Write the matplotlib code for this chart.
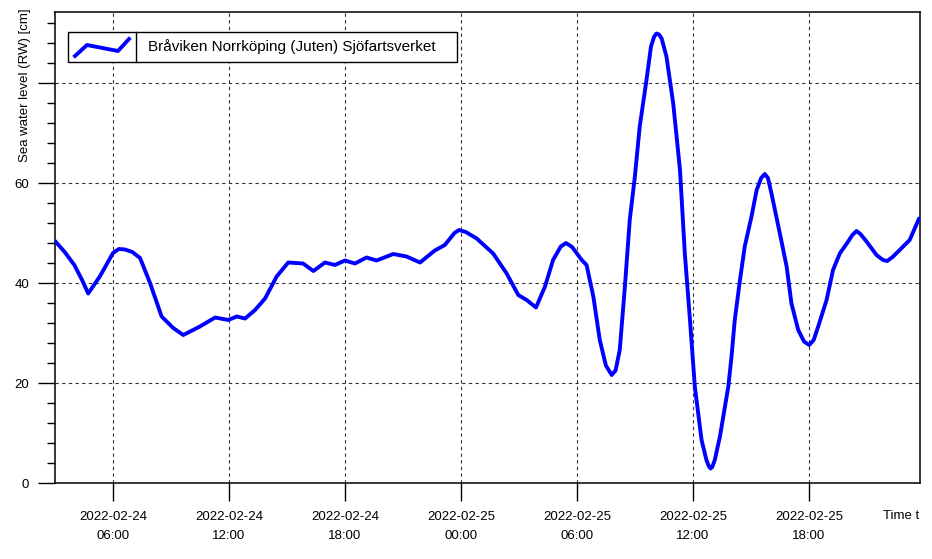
import matplotlib
matplotlib.use("Agg")
import matplotlib.pyplot as plt
import matplotlib.dates as mdates
import pandas as pd
from matplotlib.lines import Line2D
from matplotlib.patches import Rectangle

times = [
    "2022-02-24 03:00", "2022-02-24 03:30", "2022-02-24 04:00", "2022-02-24 04:24",
    "2022-02-24 04:43", "2022-02-24 05:20", "2022-02-24 06:00", "2022-02-24 06:18",
    "2022-02-24 06:37", "2022-02-24 07:00", "2022-02-24 07:24", "2022-02-24 07:55",
    "2022-02-24 08:31", "2022-02-24 09:07", "2022-02-24 09:38", "2022-02-24 10:30",
    "2022-02-24 11:17", "2022-02-24 11:58", "2022-02-24 12:24", "2022-02-24 12:50",
    "2022-02-24 13:21", "2022-02-24 13:52", "2022-02-24 14:28", "2022-02-24 15:04",
    "2022-02-24 15:50", "2022-02-24 16:22", "2022-02-24 16:58", "2022-02-24 17:29",
    "2022-02-24 18:00", "2022-02-24 18:31", "2022-02-24 19:07", "2022-02-24 19:38",
    "2022-02-24 20:30", "2022-02-24 21:11", "2022-02-24 21:53", "2022-02-24 22:39",
    "2022-02-24 23:10", "2022-02-24 23:40", "2022-02-24 23:54", "2022-02-25 00:15",
    "2022-02-25 00:49", "2022-02-25 01:40", "2022-02-25 02:22", "2022-02-25 02:58",
    "2022-02-25 03:24", "2022-02-25 03:53", "2022-02-25 04:21", "2022-02-25 04:46",
    "2022-02-25 05:10", "2022-02-25 05:26", "2022-02-25 05:45", "2022-02-25 06:15",
    "2022-02-25 06:30", "2022-02-25 06:51", "2022-02-25 07:11", "2022-02-25 07:30",
    "2022-02-25 07:48", "2022-02-25 08:00", "2022-02-25 08:13", "2022-02-25 08:29",
    "2022-02-25 08:44", "2022-02-25 09:00", "2022-02-25 09:15", "2022-02-25 09:36",
    "2022-02-25 09:50", "2022-02-25 10:00", "2022-02-25 10:07", "2022-02-25 10:15",
    "2022-02-25 10:23", "2022-02-25 10:38", "2022-02-25 10:59", "2022-02-25 11:20",
    "2022-02-25 11:35", "2022-02-25 11:51", "2022-02-25 12:06", "2022-02-25 12:27",
    "2022-02-25 12:42", "2022-02-25 12:50", "2022-02-25 12:55", "2022-02-25 13:00",
    "2022-02-25 13:08", "2022-02-25 13:24", "2022-02-25 13:50", "2022-02-25 14:00",
    "2022-02-25 14:10", "2022-02-25 14:26", "2022-02-25 14:41", "2022-02-25 15:02",
    "2022-02-25 15:18", "2022-02-25 15:32", "2022-02-25 15:43", "2022-02-25 15:53",
    "2022-02-25 16:04", "2022-02-25 16:30", "2022-02-25 16:51", "2022-02-25 17:06",
    "2022-02-25 17:27", "2022-02-25 17:45", "2022-02-25 18:01", "2022-02-25 18:15",
    "2022-02-25 18:29", "2022-02-25 18:55", "2022-02-25 19:15", "2022-02-25 19:36",
    "2022-02-25 20:02", "2022-02-25 20:15", "2022-02-25 20:28", "2022-02-25 20:40",
    "2022-02-25 20:59", "2022-02-25 21:30", "2022-02-25 21:50", "2022-02-25 22:03",
    "2022-02-25 22:20", "2022-02-25 22:42", "2022-02-25 23:13", "2022-02-25 23:42",
]
level_cm = [
    48.4, 46.2, 43.6, 40.6,
    37.9, 41.4, 46.0, 46.8,
    46.7, 46.2, 45.0, 40.0,
    33.3, 31.0, 29.6, 31.3,
    33.1, 32.6, 33.3, 32.9,
    34.6, 36.9, 41.3, 44.1,
    43.9, 42.4, 44.1, 43.6,
    44.5, 43.9, 45.1, 44.5,
    45.8, 45.3, 44.1, 46.5,
    47.6, 50.0, 50.6, 50.2,
    48.9, 45.9, 41.9, 37.6,
    36.6, 35.1, 39.3, 44.6,
    47.3, 48.0, 47.2, 44.6,
    43.6, 37.3, 28.6, 23.5,
    21.6, 22.5, 26.6, 39.3,
    52.6, 61.3, 71.3, 80.6,
    87.3, 89.3, 89.9, 89.7,
    88.9, 85.3, 75.9, 62.6,
    45.9, 32.6, 19.3, 8.6,
    4.6, 3.3, 2.9, 3.2,
    4.6, 9.3, 19.3, 25.3,
    32.6, 40.5, 47.3, 53.3,
    58.6, 61.0, 61.8, 61.0,
    57.9, 49.9, 43.3, 35.9,
    30.6, 28.3, 27.6, 28.6,
    31.3, 36.6, 42.6, 45.9,
    48.3, 49.6, 50.4, 49.8,
    48.3, 45.6, 44.6, 44.4,
    45.2, 46.6, 48.6, 52.9,
]
x_start = "2022-02-24 03:00"
x_end = "2022-02-25 23:45"
y_major = [0, 20, 40, 60, 80]
y_major_labels = ["0", "20", "40", "60", ""]
series_name = "Bråviken Norrköping (Juten) Sjöfartsverket"

plt.rcParams["font.family"] = ["Liberation Sans", "DejaVu Sans"]

W, H = 932, 559
fig = plt.figure(figsize=(W / 100, H / 100), dpi=100)
L, R, T, B = 55, 920, 12, 483
ax = fig.add_axes([L / W, 1 - B / H, (R - L) / W, (B - T) / H])

t = pd.to_datetime(times)
ax.plot(t, level_cm, color="#0000ff", linewidth=2.8, solid_capstyle="round",
        solid_joinstyle="round", zorder=3)

ax.set_xlim(pd.Timestamp(x_start), pd.Timestamp(x_end))
ax.set_ylim(0, 94.2)

ax.set_yticks(y_major)
ax.set_yticklabels(y_major_labels)
ax.set_yticks(range(0, 94, 4), minor=True)
ax.xaxis.set_major_locator(mdates.HourLocator(byhour=[0, 6, 12, 18]))
ax.xaxis.set_major_formatter(mdates.DateFormatter("%Y-%m-%d\n%H:%M"))

ax.tick_params(axis="y", which="major", length=12.5, width=1, labelsize=9.5, pad=6)
ax.tick_params(axis="y", which="minor", length=6, width=1)
ax.tick_params(axis="x", which="major", length=13, width=1, labelsize=9.5, pad=7)
for lab in ax.get_xticklabels():
    lab.set_linespacing(1.75)

ax.grid(True, which="major", color="#333333", linestyle=(0, (3, 3)), linewidth=0.8)
for s in ax.spines.values():
    s.set_linewidth(1.1)

fig.text(25 / W, 1 - 8 / H, "Sea water level (RW) [cm]", rotation=90,
         ha="center", va="top", fontsize=9.5)
fig.text(919 / W, 1 - 516 / H, "Time t", ha="right", va="center", fontsize=9.5)

# hand drawn legend box, like the original
def px(x, y):
    return (x - L) / (R - L), (B - y) / (B - T)

x0, y0 = px(68, 62)
x1, y1 = px(457, 32)
ax.add_patch(Rectangle((x0, y0), x1 - x0, y1 - y0, transform=ax.transAxes,
                       facecolor="white", edgecolor="black", linewidth=1, zorder=4))
xd, _ = px(136, 0)
ax.add_line(Line2D([xd, xd], [y0, y1], transform=ax.transAxes, color="black",
                   linewidth=1, zorder=5))
icon = [px(75, 56), px(87, 45), px(118, 51), px(129, 39)]
ax.add_line(Line2D([p[0] for p in icon], [p[1] for p in icon], transform=ax.transAxes,
                   color="#0000ff", linewidth=2.8, zorder=5))
tx, ty = px(148, 47)
ax.text(tx, ty, series_name, transform=ax.transAxes, ha="left", va="center",
        fontsize=11, zorder=5)

fig.savefig("out.png", dpi=100)
